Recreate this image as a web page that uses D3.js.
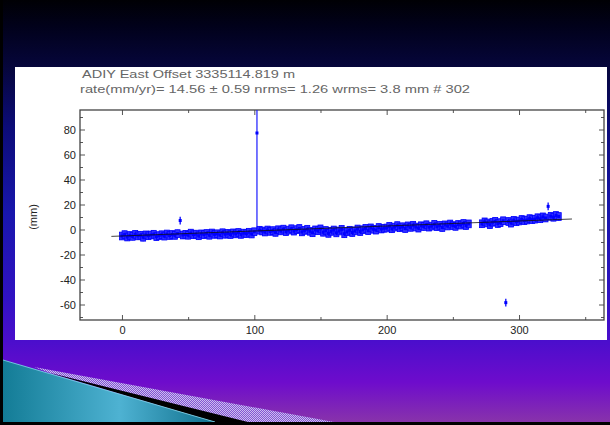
<!DOCTYPE html>
<html>
<head>
<meta charset="utf-8">
<script src="https://cdn.jsdelivr.net/npm/d3@7"></script>
<style>
  html, body { margin: 0; padding: 0; background: #000; }
  svg { display: block; font-family: "Liberation Sans", Arial, sans-serif; }
</style>
</head>
<body>
<div class="chart"></div>
<script>
// DATA ------------------------------------

// day numbers (days since start of series)
const days = [
  0, 2, 4, 6, 8, 10, 12, 14, 16, 18, 20, 22, 24, 26, 28, 30, 32, 34, 36, 38,
  40, 42, 44, 46, 48, 50, 52, 54, 56, 58, 60, 62, 64, 66, 68, 70, 72, 74, 76, 78,
  80, 82, 84, 86, 88, 90, 92, 94, 96, 98,
  100, 102, 104, 106, 108, 110, 112, 114, 116, 118, 120, 122, 124, 126, 128, 130, 132, 134, 136, 138,
  140, 142, 144, 146, 148, 150, 152, 154, 156, 158, 160, 162, 164, 166, 168, 170, 172, 174, 176, 178,
  180, 182, 184, 186, 188, 190, 192, 194, 196, 198,
  200, 202, 204, 206, 208, 210, 212, 214, 216, 218, 220, 222, 224, 226, 228, 230, 232, 234, 236, 238,
  240, 242, 244, 246, 248, 250, 252, 254, 256, 258, 260, 262,
  272, 274, 276, 278, 280, 282, 284, 286, 288, 290, 292, 294, 296, 298, 300, 302, 304, 306, 308, 310,
  312, 314, 316, 318, 320, 322, 324, 326, 328, 330
];

// east offset (mm)
const east = [
  -5.2, -4.1, -6.0, -4.8, -5.5, -3.9, -5.1, -4.6, -6.2, -4.3,
  -5.0, -4.4, -3.8, -5.7, -4.9, -4.2, -5.3, -3.6, -4.8, -4.0,
  -4.7, -3.3, 7.2, -4.4, -3.9, -4.6, -2.9, -4.2, -3.7, -5.0,
  -3.5, -4.1, -3.2, -4.6, -2.8, -3.9, -3.4, -4.4, -2.6, -3.8,
  -3.1, -4.0, -2.7, -3.5, -2.4, -3.9, -2.9, -3.3, -2.2, -3.6,
  -1.8, 77.2, -0.6, -1.2, -2.0, -0.4, -1.5, -0.9, -2.3, -0.2,
  -1.1, 0.3, -1.7, -0.5, 0.6, -1.3, -0.1, 0.8, -1.9, -0.7,
  0.2, -1.4, -2.6, -0.3, -1.0, 0.5, -2.2, -0.8, -3.1, -1.5,
  -0.4, -2.7, -1.2, 0.1, -3.4, -1.8, -0.6, -2.4, -1.1, 0.4,
  -1.6, -0.2, 0.9, -0.9, 1.3, 0.2, -0.5, 1.6, 0.4, 1.0,
  1.2, 2.5, 0.6, 1.9, 3.1, 1.4, 2.2, 0.8, 2.9, 1.7,
  3.4, 2.0, 1.1, 3.0, 2.4, 3.8, 1.9, 2.7, 4.1, 2.3,
  3.3, 1.6, 3.7, 2.8, 4.4, 3.1, 2.5, 4.0, 3.5, 4.8, 3.2, 4.5,
  4.6, 6.1, 5.2, 3.9, 5.8, 6.5, 4.8, 5.5, 7.0, -58.5,
  6.4, 5.1, 7.3, 6.2, 6.8, 8.0, 7.1, 7.6, 8.7, 7.9,
  8.3, 9.4, 8.6, 10.1, 9.2, 18.5, 10.6, 9.8, 11.2, 10.4
];

// 1-sigma error (mm), with the one large exception
const sigma = 3.1;
const bigSigma = { 102: 78 };

// fitted rate line
const trendDays = [-8, 340];
const trendEast = [-5.5, 8.4];

const xTicks = [0, 100, 200, 300];
const xMinor = [50, 150, 250, 350];
const yTicks = [-60, -40, -20, 0, 20, 40, 60, 80];
const yMinor = [-70, -50, -30, -10, 10, 30, 50, 70, 90];

const title1 = "ADIY  East Offset   3335114.819 m";
const title2 = "rate(mm/yr)=   14.56 \u00B1 0.59  nrms=  1.26  wrms=   3.8 mm # 302";

// SLIDE -----------------------------------

const W = 610, H = 425;
const svg = d3.select(".chart").append("svg")
  .attr("width", W)
  .attr("height", H);

const defs = svg.append("defs");

const bg = defs.append("linearGradient").attr("id", "bg")
  .attr("x1", 0).attr("y1", 0).attr("x2", 0).attr("y2", 1);
[[0, "#000004"], [0.06, "#01011a"], [0.16, "#06063c"], [0.3, "#0c0c78"],
 [0.5, "#1816ac"], [0.7, "#3012c2"], [0.8, "#4a0ecc"], [0.9, "#6e0ccc"],
 [1, "#8a36a8"]].forEach(s => bg.append("stop").attr("offset", s[0]).attr("stop-color", s[1]));

const teal = defs.append("linearGradient").attr("id", "teal")
  .attr("x1", 0).attr("y1", 0).attr("x2", 1).attr("y2", 0);
[[0, "#137c96"], [0.55, "#4eb2d2"], [1, "#0f6f8c"]]
  .forEach(s => teal.append("stop").attr("offset", s[0]).attr("stop-color", s[1]));

const hatch = defs.append("pattern").attr("id", "hatch")
  .attr("width", 2).attr("height", 2).attr("patternUnits", "userSpaceOnUse");
hatch.append("rect").attr("width", 2).attr("height", 2).attr("fill", "#8256d2");
hatch.append("rect").attr("width", 1).attr("height", 1).attr("fill", "#cdbcf0");
hatch.append("rect").attr("x", 1).attr("y", 1).attr("width", 1).attr("height", 1).attr("fill", "#cdbcf0");

svg.append("rect").attr("width", W).attr("height", H).attr("fill", "url(#bg)");

// swoosh bottom left
svg.append("polygon").attr("points", "34,367 334,422 245,422 50,373").attr("fill", "url(#hatch)");
svg.append("polygon").attr("points", "50,373 248,422 215,422").attr("fill", "#000");
svg.append("polygon").attr("points", "3,360 215,422 3,422").attr("fill", "url(#teal)");
svg.append("line").attr("x1", 3).attr("y1", 360).attr("x2", 215).attr("y2", 422)
  .attr("stroke", "#7fe0e8").attr("stroke-width", 0.8);

// borders
svg.append("rect").attr("x", 0).attr("y", 0).attr("width", 3).attr("height", H).attr("fill", "#000");
svg.append("rect").attr("x", 0).attr("y", 422).attr("width", W).attr("height", 3).attr("fill", "#000");

// white chart panel
svg.append("rect").attr("x", 15).attr("y", 67).attr("width", 592).attr("height", 273).attr("fill", "#fff");

// CHART -----------------------------------

const margin = ({top: 110, right: 6, bottom: 105, left: 80});
const width = W - margin.left - margin.right;
const height = H - margin.top - margin.bottom;

const g = svg.append("g")
  .attr("transform", "translate(" + margin.left + "," + margin.top + ")");

const xScale = d3.scaleLinear().domain([-31.7, 364.2]).range([0, width]);
const yScale = d3.scaleLinear().domain([-72.4, 95.6]).range([height, 0]);

defs.append("clipPath").attr("id", "plot")
  .append("rect").attr("width", width).attr("height", height);

// titles
svg.append("text").attr("x", 82).attr("y", 78)
  .attr("font-size", 11).attr("fill", "#666")
  .attr("textLength", 213).attr("lengthAdjust", "spacingAndGlyphs")
  .text(title1);
svg.append("text").attr("x", 80).attr("y", 93)
  .attr("font-size", 10.5).attr("fill", "#666")
  .attr("textLength", 390).attr("lengthAdjust", "spacingAndGlyphs")
  .text(title2);

// axes (inward ticks like matlab)
const fmt = d => (d < 0 ? "-" + Math.abs(d) : "" + d);
const xAxis = d3.axisBottom(xScale).tickValues(xTicks).tickSizeInner(-5).tickSizeOuter(0).tickPadding(6).tickFormat(fmt);
const yAxis = d3.axisLeft(yScale).tickValues(yTicks).tickSizeInner(-5).tickSizeOuter(0).tickPadding(4).tickFormat(fmt);

g.append("g").attr("class", "axis x-axis")
  .attr("transform", `translate(0, ${height})`)
  .call(xAxis);
g.append("g").attr("class", "axis y-axis").call(yAxis);
g.append("g").attr("class", "axis top")
  .call(d3.axisTop(xScale).tickValues(xTicks).tickSizeInner(-5).tickSizeOuter(0));
g.append("g").attr("class", "axis right")
  .attr("transform", `translate(${width}, 0)`)
  .call(d3.axisRight(yScale).tickValues(yTicks).tickSizeInner(-5).tickSizeOuter(0));

// minor ticks
g.append("g").attr("class", "axis minor").attr("transform", `translate(0, ${height})`)
  .call(d3.axisBottom(xScale).tickValues(xMinor).tickSizeInner(-3).tickSizeOuter(0));
g.append("g").attr("class", "axis minor")
  .call(d3.axisTop(xScale).tickValues(xMinor).tickSizeInner(-3).tickSizeOuter(0));
g.append("g").attr("class", "axis minor")
  .call(d3.axisLeft(yScale).tickValues(yMinor).tickSizeInner(-3).tickSizeOuter(0));
g.append("g").attr("class", "axis minor").attr("transform", `translate(${width}, 0)`)
  .call(d3.axisRight(yScale).tickValues(yMinor).tickSizeInner(-3).tickSizeOuter(0));

g.selectAll(".domain").remove();
g.selectAll(".top text, .right text, .minor text").remove();
g.selectAll(".tick line").attr("stroke", "#555");
g.selectAll(".x-axis text, .y-axis text")
  .attr("font-size", 11).attr("fill", "#222");

// frame
g.append("rect").attr("width", width).attr("height", height)
  .attr("fill", "none").attr("stroke", "#444").attr("stroke-width", 1.3);

// y label
svg.append("text")
  .attr("transform", "translate(37,217) rotate(-90)")
  .attr("text-anchor", "middle")
  .attr("font-size", 11).attr("fill", "#222")
  .text("(mm)");

// data
const data = days.map((d, i) => ({day: d, east: east[i], err: bigSigma[d] || sigma}));
const trendAt = d => trendEast[0] + (d - trendDays[0]) * (trendEast[1] - trendEast[0]) / (trendDays[1] - trendDays[0]);
const inBand = d => d.err < 10 && Math.abs(d.east - trendAt(d.day)) < 8;

const plot = g.append("g").attr("clip-path", "url(#plot)");

plot.selectAll("line.err")
  .data(data)
  .enter()
  .append("line")
  .attr("class", "err")
  .attr("x1", d => xScale(d.day))
  .attr("x2", d => xScale(d.day))
  .attr("y1", d => yScale(d.east - d.err))
  .attr("y2", d => yScale(d.east + d.err))
  .attr("stroke", "#1a1aff")
  .attr("stroke-width", d => d.err > 10 ? 1.2 : 1.4);

plot.selectAll("rect.cap")
  .data(data.filter(inBand))
  .enter()
  .append("rect")
  .attr("class", "cap")
  .attr("x", d => xScale(d.day) - 2.5)
  .attr("y", d => yScale(d.east + d.err))
  .attr("width", 5)
  .attr("height", d => yScale(d.east - d.err) - yScale(d.east + d.err))
  .attr("fill", "#3030ff")
  .attr("stroke", "#0000ff")
  .attr("stroke-width", 0.8);

plot.selectAll("rect.pt")
  .data(data)
  .enter()
  .append("rect")
  .attr("class", "pt")
  .attr("x", d => xScale(d.day) - 1.5)
  .attr("y", d => yScale(d.east) - 1.5)
  .attr("width", 3)
  .attr("height", 3)
  .attr("fill", "#0000ff");

// rate line
plot.append("line")
  .attr("x1", xScale(trendDays[0])).attr("y1", yScale(trendEast[0]))
  .attr("x2", xScale(trendDays[1])).attr("y2", yScale(trendEast[1]))
  .attr("stroke", "#111")
  .attr("stroke-width", 0.8);
</script>
</body>
</html>
